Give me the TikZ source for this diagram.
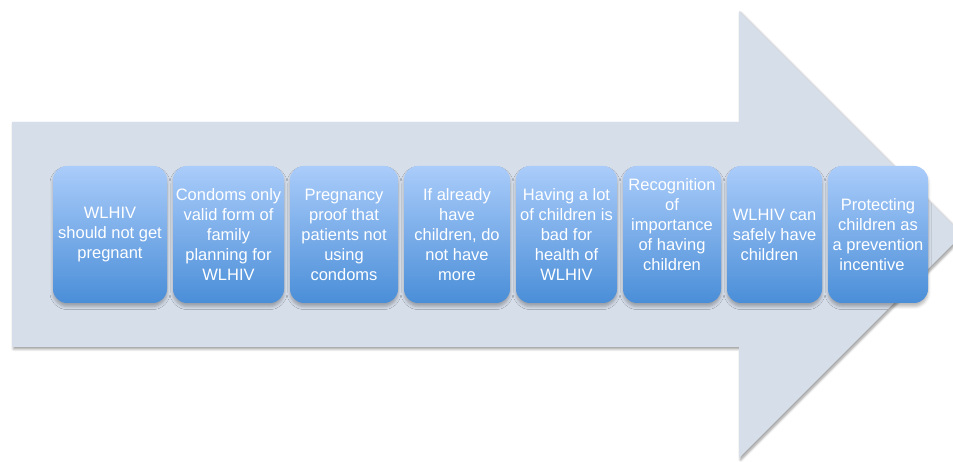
\documentclass[tikz,border=0pt]{standalone}
\usepackage{fontspec}
\setmainfont{Liberation Sans}
\usetikzlibrary{shadows.blur}
\definecolor{arrowfill}{HTML}{D6DEEA}
\definecolor{boxtop}{HTML}{AACCFA}
\definecolor{boxbot}{HTML}{4A8ED8}
\tikzset{
  stepbox/.style={rounded corners=14pt, top color=boxtop, bottom color=boxbot, draw=none,
    minimum height=137pt, inner sep=0pt,
    blur shadow={shadow xshift=0pt, shadow yshift=-3.5pt, shadow blur radius=3pt, shadow opacity=28}},
  steptext/.style={text=white, align=center, inner sep=0pt,
    font=\fontsize{16.5}{20}\selectfont}
}
\begin{document}
\begin{tikzpicture}[x=1pt,y=1pt]
\useasboundingbox (0,0) rectangle (953,462);
\begin{scope}
\clip (0,0) rectangle (953,462);
\fill[arrowfill, blur shadow={shadow xshift=1.5pt, shadow yshift=-2pt, shadow blur radius=2.5pt, shadow opacity=40}]
  (12,340) -- (739,340) -- (739,451) -- (962.5,227.5) -- (739,4) -- (739,115) -- (12,115) -- cycle;
\end{scope}
\node[stepbox, minimum width=114pt] (b1) at (110,227.5) {};
\node[stepbox, minimum width=111pt] (b2) at (228.5,227.5) {};
\node[stepbox, minimum width=108pt] (b3) at (344,227.5) {};
\node[stepbox, minimum width=106pt] (b4) at (457,227.5) {};
\node[stepbox, minimum width=101pt] (b5) at (566.5,227.5) {};
\node[stepbox, minimum width=98pt] (b6) at (672,227.5) {};
\node[stepbox, minimum width=95pt] (b7) at (774.5,227.5) {};
\node[stepbox, minimum width=100pt] (b8) at (878,227.5) {};
\node[steptext] (t1) at (b1.center) {WLHIV\\should not get\\pregnant};
\node[steptext] (t2) at (b2.center) {Condoms only\\valid form of\\family\\planning for\\WLHIV};
\node[steptext] (t3) at (b3.center) {Pregnancy\\proof that\\patients not\\using\\condoms};
\node[steptext] (t4) at (b4.center) {If already\\have\\children, do\\not have\\more};
\node[steptext] (t5) at (b5.center) {Having a lot\\of children is\\bad for\\health of\\WLHIV};
\node[steptext] (t6) at ([yshift=9.5pt]b6.center) {Recognition\\of\\importance\\of having\\children};
\node[steptext] (t7) at (b7.center) {WLHIV can\\safely have\\children\hspace*{10pt}};
\node[steptext] (t8) at (b8.center) {Protecting\\children as\\a prevention\\incentive\hspace*{12pt}};
\end{tikzpicture}
\end{document}
